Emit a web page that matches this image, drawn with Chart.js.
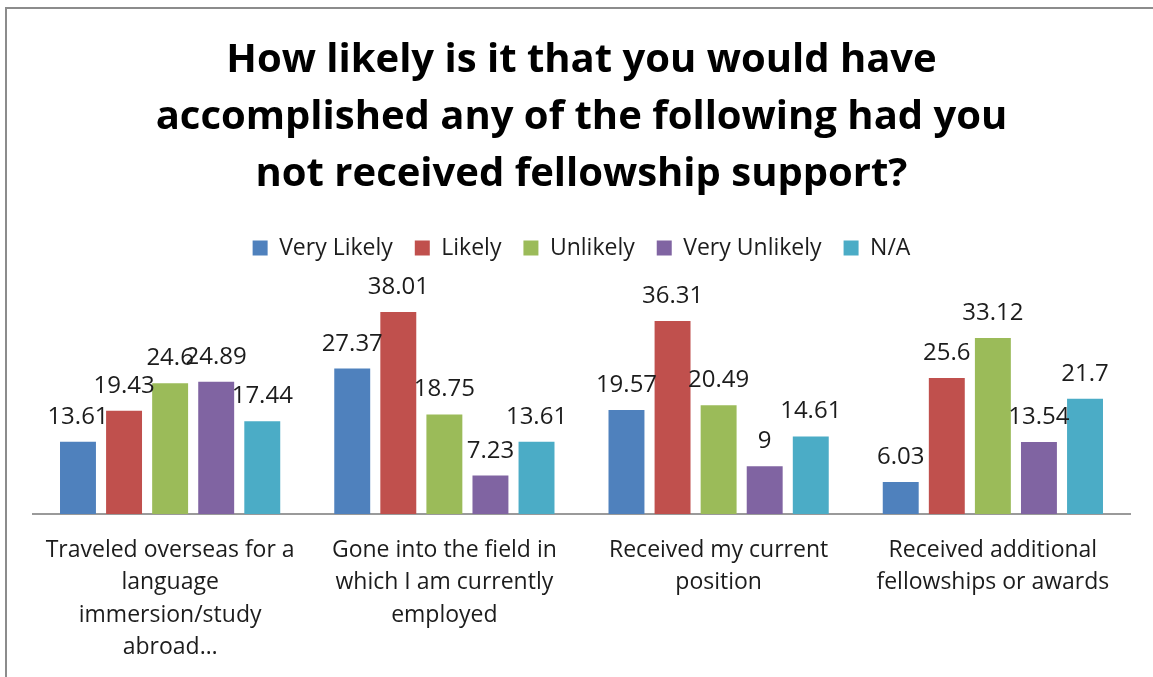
<!DOCTYPE html>
<html>
<head>
<meta charset="utf-8">
<title>Fellowship support survey</title>
<script src="https://cdn.jsdelivr.net/npm/chart.js@4/dist/chart.umd.min.js"></script>
<style>
    html, body { margin: 0; padding: 0; background: #fff; }
    #wrap {
        position: relative;
        width: 1153px;
        height: 677px;
    }
    #frame {
        position: absolute;
        left: 5px;
        top: 7px;
        right: -10px;
        bottom: -10px;
        border-left: 2px solid #8c8c8c;
        border-top: 2px solid #8c8c8c;
        pointer-events: none;
    }
</style>
</head>
<body>
<div id="wrap">
    <canvas id="surveyChart" width="1153" height="677"></canvas>
    <div id="frame"></div>
</div>
<script>
const categories = [
    ['Traveled overseas for a', 'language', 'immersion/study', 'abroad…'],
    ['Gone into the field in', 'which I am currently', 'employed'],
    ['Received my current', 'position'],
    ['Received additional', 'fellowships or awards']
];
const veryLikely = [13.61, 27.37, 19.57, 6.03];
const likely = [19.43, 38.01, 36.31, 25.6];
const unlikely = [24.6, 18.75, 20.49, 33.12];
const veryUnlikely = [24.89, 7.23, 9, 13.54];
const notApplicable = [17.44, 13.61, 14.61, 21.7];

const FONT = '"Open Sans", Lato, sans-serif';
const TEXT = '#1c1c1c';

// values printed above each bar
const barValues = {
    id: 'barValues',
    afterDatasetsDraw(chart) {
        const ctx = chart.ctx;
        ctx.save();
        ctx.font = '24px ' + FONT;
        ctx.fillStyle = TEXT;
        ctx.textAlign = 'center';
        ctx.textBaseline = 'alphabetic';
        chart.data.datasets.forEach((ds, i) => {
            const meta = chart.getDatasetMeta(i);
            meta.data.forEach((bar, j) => {
                ctx.fillText(String(ds.data[j]), bar.x, bar.y - 18);
            });
        });
        ctx.restore();
    }
};

const ctx = document.getElementById('surveyChart').getContext('2d');
new Chart(ctx, {
    type: 'bar',
    data: {
        labels: categories,
        datasets: [
            { label: 'Very Likely', data: veryLikely, backgroundColor: '#4f81bd' },
            { label: 'Likely', data: likely, backgroundColor: '#c0504d' },
            { label: 'Unlikely', data: unlikely, backgroundColor: '#9bbb59' },
            { label: 'Very Unlikely', data: veryUnlikely, backgroundColor: '#8064a2' },
            { label: 'N/A', data: notApplicable, backgroundColor: '#4bacc6' }
        ]
    },
    options: {
        responsive: false,
        animation: false,
        categoryPercentage: 0.84,
        barPercentage: 0.78,
        layout: {
            padding: { top: 8, left: 33, right: 23, bottom: 0 }
        },
        plugins: {
            title: {
                display: true,
                text: [
                    'How likely is it that you would have',
                    'accomplished any of the following had you',
                    'not received fellowship support?'
                ],
                color: '#000',
                font: { family: FONT, size: 40, weight: 'bold', lineHeight: 1.43 },
                padding: { top: 24, bottom: 11 }
            },
            legend: {
                position: 'top',
                labels: {
                    color: TEXT,
                    font: { family: FONT, size: 23 },
                    boxWidth: 15,
                    boxHeight: 15,
                    padding: 22
                }
            },
            tooltip: { enabled: false }
        },
        scales: {
            x: {
                grid: { display: false, drawTicks: false },
                border: { display: true, color: '#9a9a9a', width: 2 },
                ticks: {
                    color: TEXT,
                    font: { family: FONT, size: 23, lineHeight: 1.41 },
                    padding: 20,
                    maxRotation: 0,
                    autoSkip: false
                },
                afterFit(scale) {
                    // room under the baseline for the wrapped category names
                    scale.height = 163;
                }
            },
            y: {
                display: false,
                min: 0,
                max: 46
            }
        }
    },
    plugins: [barValues]
});
</script>
</body>
</html>
